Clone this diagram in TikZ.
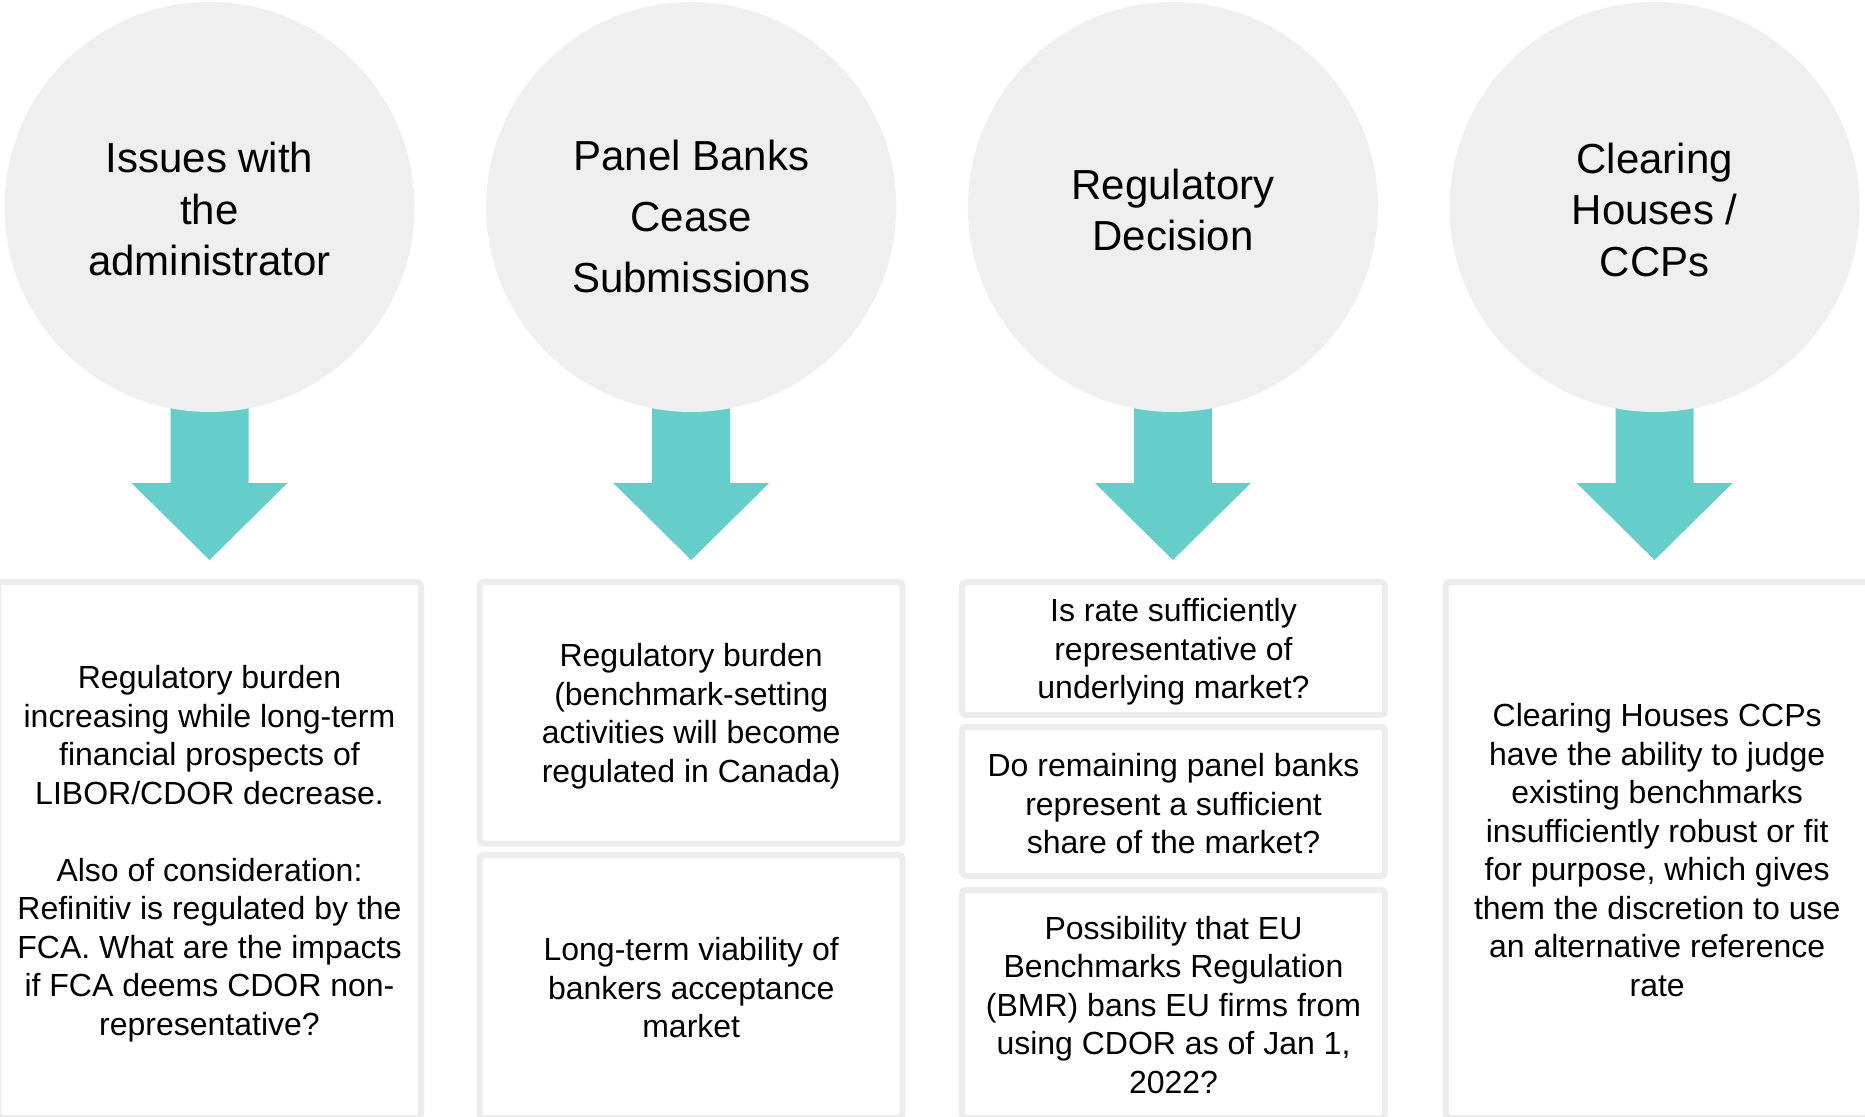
\documentclass[tikz,border=0pt]{standalone}
\usepackage{fontspec}
\setmainfont{Liberation Sans}
\usetikzlibrary{calc}
\definecolor{discgray}{RGB}{239,239,239}
\definecolor{framegray}{RGB}{236,236,236}
\definecolor{teal}{RGB}{102,206,202}
\tikzset{
  disc/.style={circle, fill=discgray, minimum size=410pt, inner sep=0pt},
  disctext/.style={align=center, text=black, font=\fontsize{42}{51.5}\selectfont},
  panel/.style={draw=framegray, line width=6pt, rounded corners=4pt, fill=white,
    minimum width=423pt, inner sep=0pt},
  paneltext/.style={align=center, text=black, inner sep=0pt,
    font=\fontsize{32}{38.5}\selectfont},
  downarrow/.style={fill=teal, draw=none}
}
\begin{document}
\begin{tikzpicture}[x=1pt, y=-1pt]
\useasboundingbox (0,0) rectangle (1865,1116);
\fill[white] (0,0) rectangle (1865,1116);

% column centres
\coordinate (k1) at (209.5,207);
\coordinate (k2) at (691.2,207);
\coordinate (k3) at (1172.9,207);
\coordinate (k4) at (1654.6,207);

% teal down arrows, drawn first so the discs sit over the shafts
\foreach \i in {1,...,4}{
  \fill[downarrow] ($(k\i)+(-39,173)$) -- ($(k\i)+(39,173)$) -- ($(k\i)+(39,276)$)
    -- ($(k\i)+(78,276)$) -- ($(k\i)+(0,353)$) -- ($(k\i)+(-78,276)$)
    -- ($(k\i)+(-39,276)$) -- cycle;
}

% discs with their headings
\node[disc] (c1) at (k1) {};
\node[disc] (c2) at (k2) {};
\node[disc] (c3) at (k3) {};
\node[disc] (c4) at (k4) {};
\node[disctext] (h1) at ($(c1)+(0,2)$) {Issues with\\the\\administrator};
\node[disctext, font=\fontsize{42}{61}\selectfont] (h2) at ($(c2)+(0,9)$) {Panel Banks\\Cease\\Submissions};
\node[disctext] (h3) at ($(c3)+(0,3)$) {Regulatory\\Decision};
\node[disctext] (h4) at ($(c4)+(0,2.5)$) {Clearing\\Houses /\\CCPs};

% column 1
\node[panel, minimum height=536pt] (b1) at (209.5,850) {};
\node[paneltext] (t1) at ($(b1)+(0,3.5)$) {Regulatory burden\\increasing while long-term\\financial prospects of\\LIBOR/CDOR decrease.\\[38.5pt]Also of consideration:\\Refinitiv is regulated by the\\FCA. What are the impacts\\if FCA deems CDOR non-\\representative?};

% column 2
\node[panel, minimum height=261.7pt] (b2a) at (691.2,712.85) {};
\node[paneltext] (t2a) at ($(b2a)+(0,3.5)$) {Regulatory burden\\(benchmark-setting\\activities will become\\regulated in Canada)};
\node[panel, minimum height=263pt] (b2b) at (691.2,986.5) {};
\node[paneltext] (t2b) at ($(b2b)+(0,1.5)$) {Long-term viability of\\bankers acceptance\\market};

% column 3
\node[panel, minimum height=133pt] (b3a) at (1173.5,648.5) {};
\node[paneltext] (t3a) at ($(b3a)+(0,3.5)$) {Is rate sufficiently\\representative of\\underlying market?};
\node[panel, minimum height=149pt] (b3b) at (1173.5,801.5) {};
\node[paneltext] (t3b) at ($(b3b)+(0,2.5)$) {Do remaining panel banks\\represent a sufficient\\share of the market?};
\node[panel, minimum height=228pt] (b3c) at (1173.5,1004) {};
\node[paneltext] (t3c) at ($(b3c)+(0,1)$) {Possibility that EU\\Benchmarks Regulation\\(BMR) bans EU firms from\\using CDOR as of Jan 1,\\2022?};

% column 4
\node[panel, minimum height=536pt] (b4) at (1657.2,850) {};
\node[paneltext] (t4) at (b4) {Clearing Houses CCPs\\have the ability to judge\\existing benchmarks\\insufficiently robust or fit\\for purpose, which gives\\them the discretion to use\\an alternative reference\\rate};
\end{tikzpicture}
\end{document}
